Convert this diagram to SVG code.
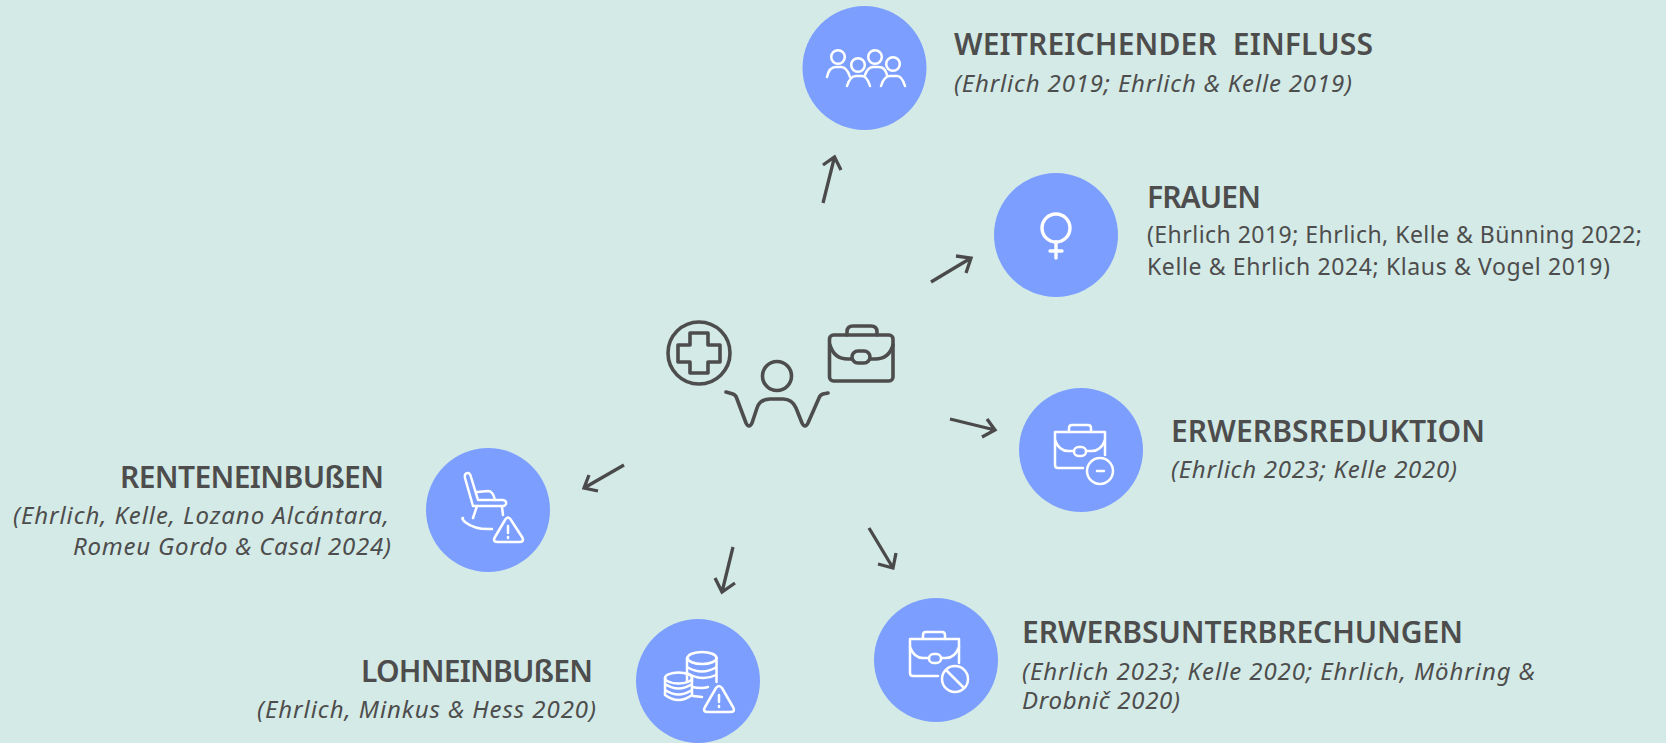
<svg xmlns="http://www.w3.org/2000/svg" width="1666" height="743" viewBox="0 0 1666 743">
<style>
text{font-family:"Noto Sans","Open Sans","Liberation Sans",sans-serif;fill:#4d4d4d}
.t{font-size:30px;font-weight:600}
.s{font-size:23px}
.i{font-size:24px;font-style:italic}
.c{fill:#7c9fff}
.w{fill:none;stroke:#fff;stroke-width:2.500;stroke-linecap:round;stroke-linejoin:round}
.d{fill:none;stroke:#4d4d4d;stroke-width:3.600;stroke-linecap:round;stroke-linejoin:round}
.a{fill:none;stroke:#4a4a4a;stroke-width:3.300}
</style>
<rect width="1666" height="743" fill="#d4eae6"/>
<g id="connectors" class="a">
<path d="M823 203L834.500 157M823 165L834.500 157L841 170"/>
<path d="M931 282L971 258M956 256L971 258L966 273"/>
<path d="M950 419L995 430M987 419L995 430L982 437"/>
<path d="M624 465L584 488M589 475L584 488L598 491"/>
<path d="M733 547L722 592M715 578L722 592L735 583"/>
<path d="M869 528L893 568M896 553L893 568L878 564"/>
</g>
<g id="center" class="d">
<circle cx="699" cy="353" r="31"/>
<path d="M690 333H708V345H720V362H708V373H690V362H678V345H690Z"/>
<circle cx="777" cy="376" r="14.500"/>
<path d="M726 392L733 394Q736 395 737 399L746 423Q749 429 752 423L757 408Q760 399 770 399H783Q792 399 796 408L802 423Q805 429 808 423L819 398Q820 395 823 394L828 393"/>
<rect x="829.500" y="335" width="63.500" height="46" rx="4"/>
<path d="M847 335V332Q847 326 853 326H871Q877 326 877 332V335"/>
<path d="M830 345Q834 359 848 359H852M870 359H875Q889 359 893 345"/>
<rect x="852" y="351" width="18" height="12" rx="6"/>
</g>
<g id="node-einfluss">
<circle class="c" cx="864.500" cy="68" r="62"/>
<g class="w">
<circle cx="838" cy="57" r="6.800"/><path d="M827 77Q829 67 836 67H841Q847 67 850 77"/>
<circle cx="858" cy="65" r="6.800"/><path d="M847 86Q850 76 856 76H862Q867 76 870 86"/>
<circle cx="875" cy="57" r="6.800"/><path d="M865 75Q868 67 873 67H879Q885 67 887 75"/>
<circle cx="893" cy="64" r="6.800"/><path d="M881 86Q884 76 890 76H897Q902 76 905 86"/>
</g>
<text class="t" x="954" y="55" xml:space="preserve" textLength="419">WEITREICHENDER  EINFLUSS</text>
<text class="i" x="954" y="92" textLength="398">(Ehrlich 2019; Ehrlich &amp; Kelle 2019)</text>
</g>
<g id="node-frauen">
<circle class="c" cx="1056" cy="235" r="62"/>
<g class="w" style="stroke-width:3.400">
<circle cx="1056" cy="228" r="14"/><path d="M1056 242V258M1050 251H1062"/>
</g>
<text class="t" x="1147" y="208" textLength="114">FRAUEN</text>
<text class="s" x="1147" y="243" textLength="495">(Ehrlich 2019; Ehrlich, Kelle &amp; Bünning 2022;</text>
<text class="s" x="1147" y="275" textLength="463">Kelle &amp; Ehrlich 2024; Klaus &amp; Vogel 2019)</text>
</g>
<g id="node-erwerbsreduktion">
<circle class="c" cx="1081" cy="450" r="62"/>
<g class="w">
<path d="M1083 468H1058Q1055 468 1055 465V432H1105V455"/>
<path d="M1069 432V428Q1069 425 1072 425H1088Q1091 425 1091 428V432"/>
<path d="M1055 440Q1059 451 1068 451H1074M1086 451H1092Q1101 451 1105 440"/>
<rect x="1074" y="447" width="12" height="9" rx="4.500"/>
<circle cx="1100" cy="471" r="13"/><path d="M1097 471H1104"/>
</g>
<text class="t" x="1171" y="442" textLength="314">ERWERBSREDUKTION</text>
<text class="i" x="1171" y="478" textLength="286">(Ehrlich 2023; Kelle 2020)</text>
</g>
<g id="node-erwerbsunterbrechungen">
<circle class="c" cx="936" cy="660" r="62"/>
<g class="w">
<path d="M938 676H913Q910 676 910 673V639H959V663"/>
<path d="M923 639V635Q923 632 926 632H942Q945 632 945 635V639"/>
<path d="M910 647Q914 658 923 658H929M941 658H946Q955 658 959 647"/>
<rect x="929" y="654" width="12" height="9" rx="4.500"/>
<circle cx="955" cy="679" r="13"/><path d="M946 670L964 688"/>
</g>
<text class="t" x="1022" y="643" textLength="441">ERWERBSUNTERBRECHUNGEN</text>
<text class="i" x="1022" y="680" textLength="513">(Ehrlich 2023; Kelle 2020; Ehrlich, Möhring &amp;</text>
<text class="i" x="1022" y="709" textLength="158">Drobnič 2020)</text>
</g>
<g id="node-lohneinbussen">
<circle class="c" cx="698" cy="681" r="62"/>
<g class="w">
<ellipse cx="702" cy="658" rx="14.500" ry="6"/>
<path d="M687 658V682M716.500 658V682M687 667Q702 676 716.500 667M687 673Q702 682 716 675M692 687Q702 689 708 687M693 696L702 697"/>
<ellipse cx="678.500" cy="678" rx="13.500" ry="5.500"/>
<path d="M665 678V695Q678.500 705 692 695V678M665 684Q678.500 693 692 684M665 690Q678.500 699 692 690"/>
<path d="M716 688L705 707Q702 712 708 712H730Q736 712 733 707L722 688Q719 684 716 688Z"/>
<path d="M719 695V702M719 706V707"/>
</g>
<text class="t" x="361" y="682" textLength="232">LOHNEINBUßEN</text>
<text class="i" x="257" y="718" textLength="339">(Ehrlich, Minkus &amp; Hess 2020)</text>
</g>
<g id="node-renteneinbussen">
<circle class="c" cx="488" cy="510" r="62"/>
<g class="w">
<path d="M473 506L465 478Q464 473 468 473Q470 473 471 477L478 500H503Q507 501 506 504Q505 506 503 506H473"/>
<path d="M477 492L488 491Q493 491 495 500"/>
<path d="M477 506L473 518M502 507L503 515"/>
<path d="M463 518Q461 518 465 522Q475 530 492 529"/>
<path d="M505 520L495 537Q492 542 498 542H519Q525 542 522 537L511 520Q508 515 505 520Z"/>
<path d="M508 526V533M508 537V538"/>
</g>
<text class="t" x="120" y="488" textLength="264">RENTENEINBUßEN</text>
<text class="i" x="13" y="524" textLength="376">(Ehrlich, Kelle, Lozano Alcántara,</text>
<text class="i" x="73" y="555" textLength="318">Romeu Gordo &amp; Casal 2024)</text>
</g>
</svg>
